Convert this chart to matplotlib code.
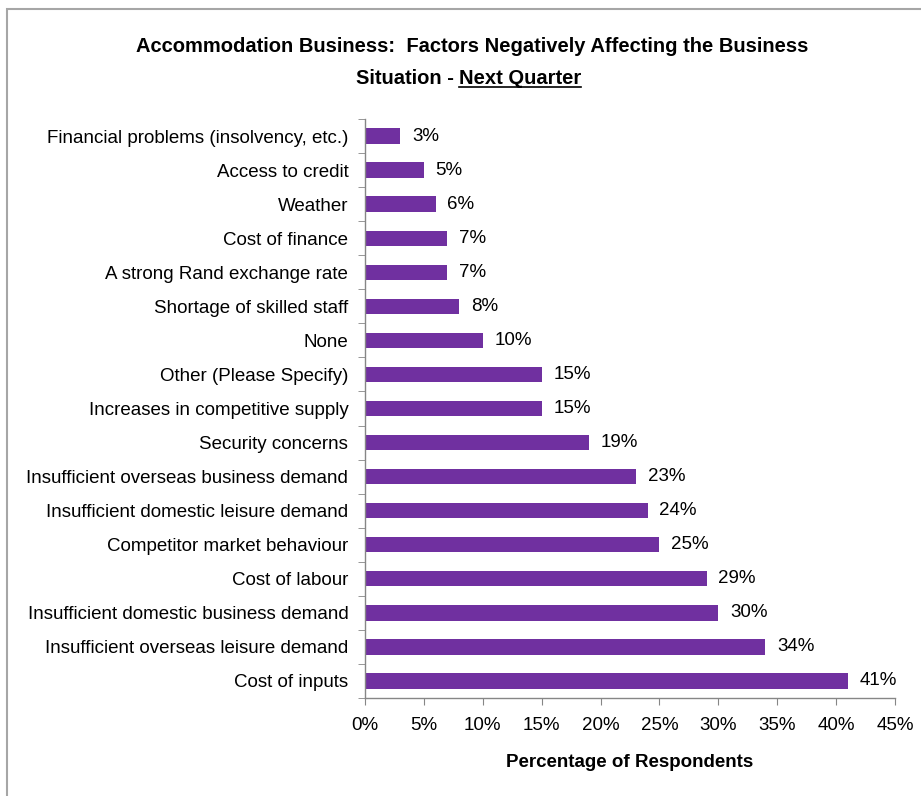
import matplotlib
matplotlib.use("Agg")
import matplotlib.pyplot as plt
from matplotlib.ticker import FixedLocator, FuncFormatter
from matplotlib.patches import Rectangle

plt.rcParams['font.family'] = ['Liberation Sans', 'DejaVu Sans']

factors = [
    "Financial problems (insolvency, etc.)",
    "Access to credit",
    "Weather",
    "Cost of finance",
    "A strong Rand exchange rate",
    "Shortage of skilled staff",
    "None",
    "Other (Please Specify)",
    "Increases in competitive supply",
    "Security concerns",
    "Insufficient overseas business demand",
    "Insufficient domestic leisure demand",
    "Competitor market behaviour",
    "Cost of labour",
    "Insufficient domestic business demand",
    "Insufficient overseas leisure demand",
    "Cost of inputs",
]
percent = [3, 5, 6, 7, 7, 8, 10, 15, 15, 19, 23, 24, 25, 29, 30, 34, 41]
x_ticks = [0, 5, 10, 15, 20, 25, 30, 35, 40, 45]

bar_color = "#7030A0"
axis_color = "#868686"
W, H = 921, 796

fig = plt.figure(figsize=(W / 100, H / 100), dpi=100)
fig.patch.set_facecolor("white")

# outer chart frame
fig.patches.append(Rectangle((7 / W, -0.05), 1.2, (H - 9.5) / H + 0.05,
                             transform=fig.transFigure, fill=False,
                             edgecolor="#a6a6a6", linewidth=1.5))

ax = fig.add_axes([365 / W, (H - 698) / H, (895 - 365) / W, (698 - 119) / H])

n = len(factors)
ypos = list(range(n))
ax.barh(ypos, percent, height=0.45, color=bar_color)
ax.set_ylim(n - 0.5, -0.5)
ax.set_xlim(0, 45)

fs = 13.5
for y, v in zip(ypos, percent):
    ax.text(v + 1.0, y, f"{v}%", va="center", ha="left", fontsize=fs, color="black")

ax.set_yticks(ypos)
ax.set_yticklabels(factors, fontsize=fs)
ax.tick_params(axis="y", which="major", length=0, pad=12)
ax.yaxis.set_minor_locator(FixedLocator([i - 0.5 for i in range(n + 1)]))
ax.tick_params(axis="y", which="minor", length=5, color=axis_color, direction="out")

ax.set_xticks(x_ticks)
ax.xaxis.set_major_formatter(FuncFormatter(lambda v, p: f"{int(v)}%"))
ax.tick_params(axis="x", length=5, color=axis_color, labelsize=fs, pad=9)

for s in ("top", "right"):
    ax.spines[s].set_visible(False)
for s in ("left", "bottom"):
    ax.spines[s].set_color(axis_color)
    ax.spines[s].set_linewidth(1.0)

ax.set_xlabel("Percentage of Respondents", fontsize=fs, fontweight="bold", labelpad=14)

tfs = 14.5
fig.text(472 / W, 1 - 47 / H, "Accommodation Business:  Factors Negatively Affecting the Business",
         ha="center", va="center", fontsize=tfs, fontweight="bold")
t1 = fig.text(459 / W, 1 - 78 / H, "Situation - ", ha="right", va="center",
              fontsize=tfs, fontweight="bold")
t2 = fig.text(459 / W, 1 - 78 / H, "Next Quarter", ha="left", va="center",
              fontsize=tfs, fontweight="bold")

fig.canvas.draw()
bb = t2.get_window_extent()
yline = (bb.y0 + 1) / H
fig.add_artist(plt.Line2D([bb.x0 / W, bb.x1 / W], [yline, yline], transform=fig.transFigure,
                          color="black", linewidth=1.2))

fig.savefig("out.png", dpi=100, facecolor="white")
